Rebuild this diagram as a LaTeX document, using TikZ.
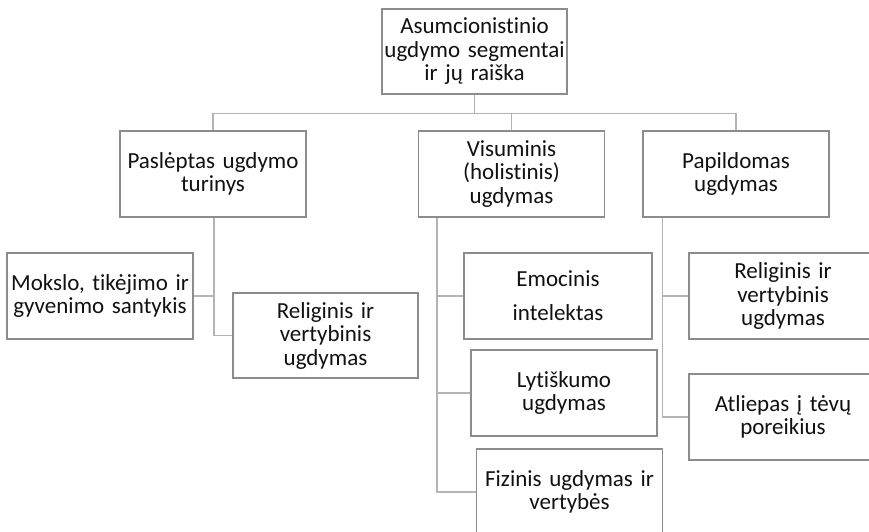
\documentclass[tikz,border=0pt]{standalone}
\usepackage{fontspec}
\setmainfont{Carlito}[Ligatures=NoCommon]
\usetikzlibrary{calc}
\definecolor{boxline}{HTML}{8C8C8C}
\definecolor{connline}{HTML}{B4B4B4}
\definecolor{ink}{HTML}{111111}
\tikzset{
  orgbox/.style={draw=boxline, line width=1.4pt, fill=white, text=ink,
    minimum width=186pt, minimum height=86pt, inner sep=0pt,
    text width=184pt, align=center,
    font=\fontsize{23}{23.5}\selectfont},
  widebox/.style={orgbox, font=\fontsize{23}{34}\selectfont},
  conn/.style={draw=connline, line width=1.4pt}
}
\begin{document}
\begin{tikzpicture}[x=1pt,y=-1pt]
\useasboundingbox (0,0) rectangle (869,531);
\clip (0,0) rectangle (869,531);

% top level
\node[orgbox, minimum width=185pt, minimum height=85pt] (top) at (474.5,51.5)
  {Asumcionistinio\\ugdymo segmentai\\ir jų raiška};

% second level
\node[orgbox] (pas) at (213,174) {Paslėptas ugdymo\\turinys};
\node[orgbox] (vis) at (511.5,174) {Visuminis\\(holistinis)\\ugdymas};
\node[orgbox] (pap) at (736,174) {Papildomas\\ugdymas};

% under Paslėptas
\node[orgbox] (mok) at (100,296) {Mokslo, tikėjimo ir\\gyvenimo santykis};
\node[orgbox, minimum width=185pt, minimum height=85pt] (rell) at (325.5,335.5)
  {Religinis ir\\vertybinis\\ugdymas};

% under Visuminis
\node[widebox, minimum width=188pt] (emo) at (558,296) {Emocinis\\intelektas};
\node[orgbox] (lyt) at (564,393) {Lytiškumo\\ugdymas};
\node[orgbox] (fiz) at (569.5,492) {Fizinis ugdymas ir\\vertybės};

% under Papildomas
\node[orgbox, minimum width=188pt] (relr) at (783,296) {Religinis ir\\vertybinis\\ugdymas};
\node[orgbox, minimum width=188pt] (atl) at (783,417) {Atliepas į tėvų\\poreikius};

% bus from the top box
\coordinate (bus) at ($(top.south)+(0,19)$);
\draw[conn] (top.south) -- (bus);
\draw[conn] (pas.north) |- (bus) -| (pap.north);
\draw[conn] (vis.north) -- (vis.north |- bus);

% Paslėptas branch
\coordinate (ps) at ($(pas.south)+(1,0)$);
\draw[conn] (ps) -- (ps |- rell.west) -- (rell.west);
\draw[conn] (mok.east) -- (mok.east -| ps);

% Visuminis branch
\coordinate (vs) at ($(vis.south west)+(19,0)$);
\draw[conn] (vs) -- (vs |- fiz.west) -- (fiz.west);
\draw[conn] (emo.west) -- (emo.west -| vs);
\draw[conn] (lyt.west) -- (lyt.west -| vs);

% Papildomas branch
\coordinate (qs) at ($(pap.south west)+(20,0)$);
\draw[conn] (qs) -- (qs |- atl.west) -- (atl.west);
\draw[conn] (relr.west) -- (relr.west -| qs);
\end{tikzpicture}
\end{document}
